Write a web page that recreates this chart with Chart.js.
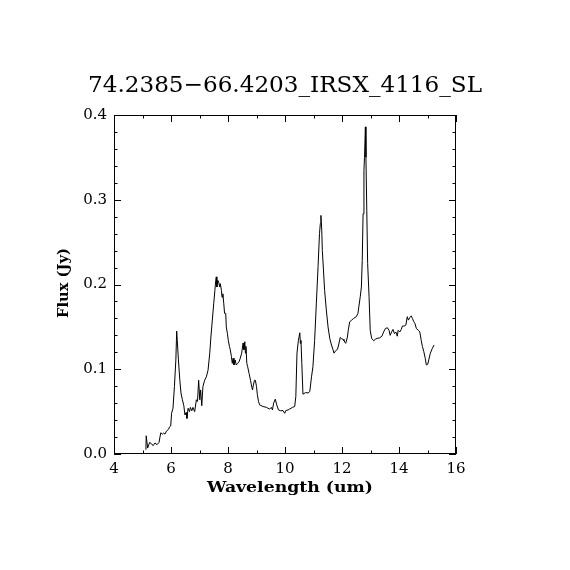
<!DOCTYPE html>
<html>
<head>
<meta charset="utf-8">
<script src="https://cdn.jsdelivr.net/npm/chart.js@4.4.0/dist/chart.umd.min.js"></script>
<style>
  body { margin: 0; background: #fff; }
  canvas { display: block; }
</style>
</head>
<body>
<canvas id="grafico" width="570" height="570"></canvas>
<script>
const titulo = "74.2385\u221266.4203_IRSX_4116_SL";
const etiquetaX = "Wavelength (um)";
const etiquetaY = "Flux (Jy)";

// espectro (um, Jy)
const wavelength = [
  5.12, 5.13, 5.18, 5.25, 5.32, 5.37, 5.44, 5.51, 5.58, 5.64, 5.70, 5.74, 5.79, 5.84, 5.91, 5.95, 5.99,
  6.02, 6.07, 6.12, 6.17, 6.20, 6.22, 6.26, 6.31, 6.35, 6.40, 6.45, 6.49, 6.53, 6.56, 6.60, 6.65, 6.68,
  6.73, 6.77, 6.83, 6.89, 6.93, 6.97, 7.01, 7.04, 7.08, 7.12, 7.18, 7.24, 7.30, 7.36, 7.40, 7.45, 7.50,
  7.54, 7.57, 7.59, 7.61, 7.64, 7.67, 7.71, 7.73, 7.77, 7.79, 7.82, 7.85, 7.88, 7.92, 7.94, 7.98, 8.01,
  8.05, 8.08, 8.12, 8.15, 8.18, 8.21, 8.25, 8.29, 8.34, 8.39, 8.43, 8.48, 8.53, 8.56, 8.59, 8.61, 8.63,
  8.66, 8.69, 8.74, 8.79, 8.82, 8.86, 8.89, 8.93, 8.96, 9.00, 9.03, 9.07, 9.11, 9.23, 9.35, 9.46, 9.52,
  9.56, 9.60, 9.66, 9.71, 9.77, 9.85, 9.93, 9.99, 10.03, 10.11, 10.16, 10.26, 10.34, 10.38, 10.42, 10.47,
  10.52, 10.54, 10.56, 10.59, 10.63, 10.73, 10.81, 10.87, 10.93, 10.98, 11.04, 11.10, 11.16, 11.21, 11.24,
  11.26, 11.29, 11.31, 11.35, 11.39, 11.45, 11.51, 11.57, 11.63, 11.68, 11.72, 11.78, 11.84, 11.88, 11.94,
  11.98, 12.04, 12.07, 12.13, 12.19, 12.22, 12.27, 12.34, 12.41, 12.50, 12.56, 12.59, 12.64, 12.68, 12.71,
  12.74, 12.77, 12.79, 12.82, 12.84, 12.87, 12.90, 12.95, 12.99, 13.04, 13.11, 13.17, 13.23, 13.32, 13.40,
  13.46, 13.52, 13.59, 13.65, 13.69, 13.74, 13.79, 13.84, 13.89, 13.94, 13.97, 14.03, 14.08, 14.12, 14.18,
  14.24, 14.29, 14.33, 14.38, 14.43, 14.47, 14.52, 14.56, 14.61, 14.68, 14.73, 14.78, 14.82, 14.87, 14.92,
  14.96, 15.01, 15.05, 15.10, 15.17, 15.23
];
const flux = [
  0.005, 0.0215, 0.007, 0.0137, 0.012, 0.0098, 0.013, 0.011, 0.0137, 0.025, 0.0235, 0.0247, 0.0235, 0.027, 0.029, 0.032, 0.033,
  0.048, 0.054, 0.0795, 0.111, 0.145, 0.134, 0.111, 0.087, 0.072, 0.064, 0.057, 0.046, 0.049, 0.042, 0.054, 0.050, 0.055,
  0.051, 0.055, 0.050, 0.064, 0.062, 0.087, 0.064, 0.0756, 0.057, 0.0795, 0.087, 0.091, 0.099, 0.119, 0.138, 0.158, 0.178,
  0.193, 0.205, 0.209, 0.197, 0.205, 0.203, 0.197, 0.201, 0.193, 0.185, 0.189, 0.178, 0.166, 0.166, 0.150, 0.142, 0.134,
  0.127, 0.123, 0.115, 0.107, 0.113, 0.105, 0.111, 0.105, 0.107, 0.109, 0.113, 0.119, 0.131, 0.123, 0.1325, 0.119, 0.127,
  0.107, 0.103, 0.095, 0.087, 0.0815, 0.0756, 0.0815, 0.087, 0.087, 0.0795, 0.070, 0.062, 0.058, 0.056, 0.055, 0.053, 0.055,
  0.052, 0.060, 0.0647, 0.058, 0.052, 0.051, 0.0513, 0.048, 0.0513, 0.052, 0.053, 0.055, 0.056, 0.068, 0.119, 0.134,
  0.143, 0.1305, 0.134, 0.107, 0.0706, 0.0725, 0.072, 0.0737, 0.091, 0.103, 0.134, 0.178, 0.221, 0.260, 0.272,
  0.2815, 0.264, 0.240, 0.217, 0.193, 0.170, 0.150, 0.1365, 0.1286, 0.1235, 0.119, 0.122, 0.1235, 0.1286, 0.1376,
  0.136, 0.1353, 0.1336, 0.1306, 0.138, 0.146, 0.156, 0.158, 0.160, 0.162, 0.166, 0.1736, 0.1855, 0.197, 0.2285,
  0.2835, 0.3345, 0.350, 0.386, 0.350, 0.287, 0.2247, 0.1855, 0.146, 0.1365, 0.1336, 0.1353, 0.1365, 0.137, 0.139,
  0.144, 0.148, 0.149, 0.146, 0.140, 0.144, 0.147, 0.142, 0.144, 0.139, 0.146, 0.144, 0.147, 0.151, 0.151,
  0.152, 0.162, 0.158, 0.161, 0.163, 0.160, 0.156, 0.154, 0.148, 0.146, 0.144, 0.134, 0.127, 0.121, 0.113,
  0.105, 0.106, 0.112, 0.119, 0.1247, 0.1286
];

const xTicks = [4, 6, 8, 10, 12, 14, 16];
const xMinor = [5, 7, 9, 11, 13, 15];
const yTicks = [0.0, 0.1, 0.2, 0.3, 0.4];
const yMinor = [0.02, 0.04, 0.06, 0.08, 0.12, 0.14, 0.16, 0.18, 0.22, 0.24, 0.26, 0.28, 0.32, 0.34, 0.36, 0.38];

const fuenteTicks = { family: "DejaVu Serif", size: 15 };

// texto ajustado a un ancho dado
function textoAjustado(ctx, texto, cx, base, ancho, fuente) {
  ctx.save();
  ctx.font = fuente;
  const w = ctx.measureText(texto).width;
  ctx.translate(cx, base);
  ctx.scale(ancho / w, 1);
  ctx.textAlign = "center";
  ctx.textBaseline = "alphabetic";
  ctx.fillText(texto, 0, 0);
  ctx.restore();
}

const marco = {
  id: "marco",
  afterDraw(chart) {
    const ctx = chart.ctx;
    const a = chart.chartArea;
    const sx = chart.scales.x, sy = chart.scales.y;
    ctx.save();
    ctx.strokeStyle = "#000";
    ctx.lineWidth = 1;
    ctx.strokeRect(a.left + 0.5, a.top + 0.5, a.right - a.left - 1, a.bottom - a.top - 1);
    ctx.beginPath();
    xTicks.forEach(v => {
      const p = Math.round(sx.getPixelForValue(v)) + 0.5;
      ctx.moveTo(p, a.bottom); ctx.lineTo(p, a.bottom - 7);
      ctx.moveTo(p, a.top); ctx.lineTo(p, a.top + 7);
    });
    xMinor.forEach(v => {
      const p = Math.round(sx.getPixelForValue(v)) + 0.5;
      ctx.moveTo(p, a.bottom); ctx.lineTo(p, a.bottom - 3.5);
      ctx.moveTo(p, a.top); ctx.lineTo(p, a.top + 3.5);
    });
    yTicks.forEach(v => {
      const p = Math.round(sy.getPixelForValue(v)) + 0.5;
      ctx.moveTo(a.left, p); ctx.lineTo(a.left + 7, p);
      ctx.moveTo(a.right, p); ctx.lineTo(a.right - 7, p);
    });
    yMinor.forEach(v => {
      const p = Math.round(sy.getPixelForValue(v)) + 0.5;
      ctx.moveTo(a.left, p); ctx.lineTo(a.left + 3.5, p);
      ctx.moveTo(a.right, p); ctx.lineTo(a.right - 3.5, p);
    });
    ctx.stroke();

    ctx.fillStyle = "#000";
    textoAjustado(ctx, titulo, 285, 92, 394, '23px "DejaVu Serif"');
    textoAjustado(ctx, etiquetaX, 290, 492, 166, 'bold 15px "DejaVu Serif"');
    ctx.save();
    ctx.translate(68, 283);
    ctx.rotate(-Math.PI / 2);
    textoAjustado(ctx, etiquetaY, 0, 0, 70, 'bold 15px "DejaVu Serif"');
    ctx.restore();
    ctx.restore();
  }
};

const ctx = document.getElementById("grafico").getContext("2d");
new Chart(ctx, {
  type: "line",
  data: {
    datasets: [{
      data: wavelength.map((w, i) => ({ x: w, y: flux[i] })),
      borderColor: "#000",
      borderWidth: 1,
      pointRadius: 0,
      tension: 0,
      fill: false
    }]
  },
  options: {
    responsive: false,
    animation: false,
    devicePixelRatio: 1,
    layout: { padding: { left: 0, right: 114, top: 115, bottom: 0 } },
    plugins: { legend: { display: false }, tooltip: { enabled: false }, title: { display: false } },
    scales: {
      x: {
        type: "linear",
        min: 4, max: 16,
        afterFit(s) { s.height = 116; },
        afterBuildTicks(s) { s.ticks = xTicks.map(v => ({ value: v })); },
        grid: { display: false, drawTicks: false },
        border: { display: false },
        ticks: { color: "#000", font: fuenteTicks, padding: 6, maxRotation: 0, callback: v => String(v) }
      },
      y: {
        type: "linear",
        min: 0, max: 0.4,
        afterFit(s) { s.width = 114; },
        afterBuildTicks(s) { s.ticks = yTicks.map(v => ({ value: v })); },
        grid: { display: false, drawTicks: false },
        border: { display: false },
        ticks: { color: "#000", font: fuenteTicks, padding: 7, callback: v => v.toFixed(1) }
      }
    }
  },
  plugins: [marco]
});
</script>
</body>
</html>
